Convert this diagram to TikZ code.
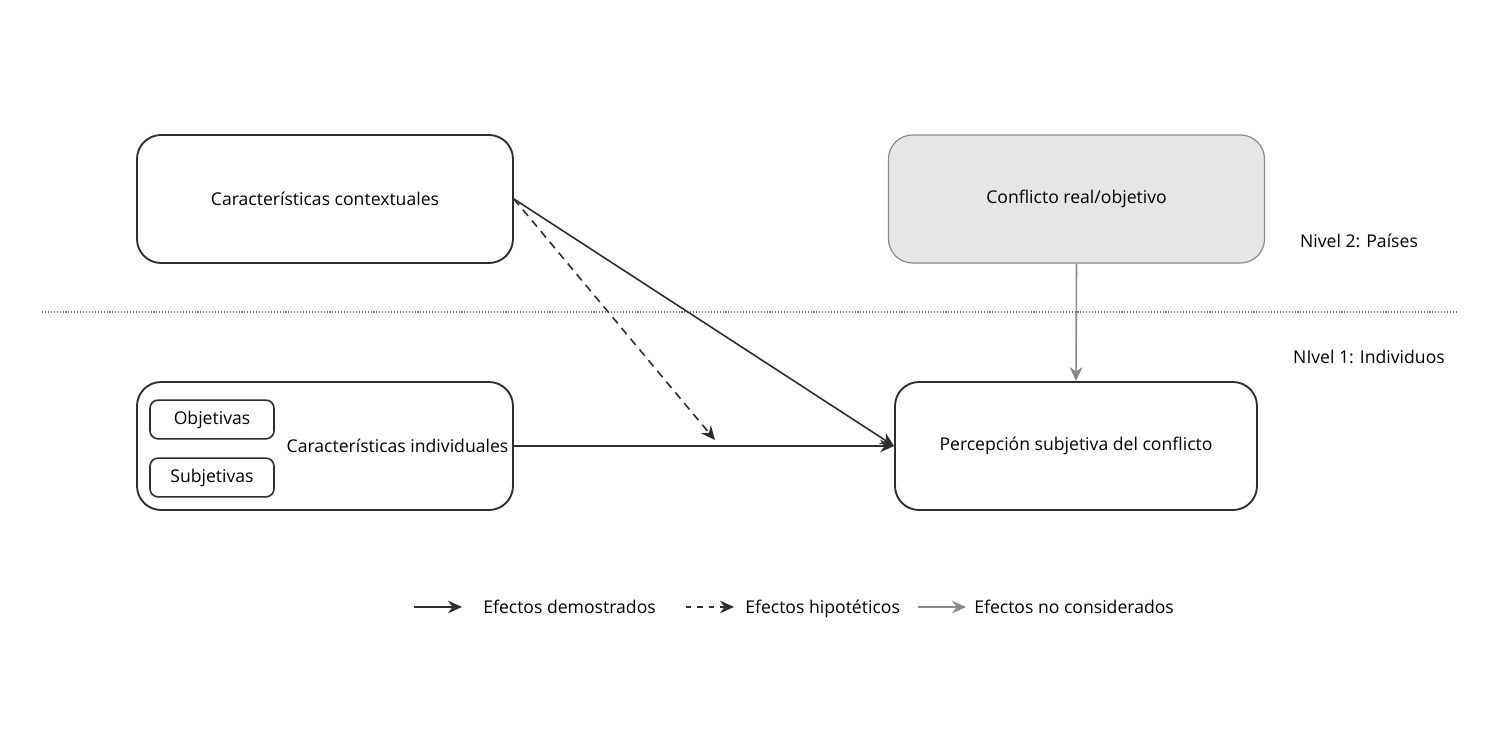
\documentclass[tikz,border=0pt]{standalone}
\usepackage{fontspec}
\setmainfont{Open Sans}
\usetikzlibrary{arrows.meta,positioning}
\definecolor{ink}{HTML}{2E2E2E}
\definecolor{grayink}{HTML}{8A8A8A}
\definecolor{grayfill}{HTML}{E6E6E6}
\tikzset{
  bigbox/.style={draw=ink, line width=1.4pt, rounded corners=18pt,
    minimum width=282pt, minimum height=96pt, align=center},
  smallbox/.style={draw=ink, line width=1.2pt, rounded corners=6pt,
    minimum width=93pt, minimum height=29pt},
  effect/.style={ink, line width=1.2pt, -{Stealth[length=10.5pt,width=9.5pt]}},
  hypo/.style={effect, dash pattern=on 6pt off 4.5pt},
  legendhypo/.style={effect, dash pattern=on 4pt off 4.5pt},
  notcons/.style={effect, grayink}
}
\begin{document}
\begin{tikzpicture}[x=0.75pt, y=-0.75pt, font=\fontsize{13.2}{16}\selectfont]
  \useasboundingbox (0,0) rectangle (1504,739);
  % niveles
  \draw[grayink!80!black, line width=0.8pt, dash pattern=on 0.8pt off 1.4pt] (42,312) -- (1457,312);
  \node (nivdos) at (1359,241) {Nivel 2: Países};
  \node (nivuno) at (1369,357) {NIvel 1: Individuos};
  % cajas
  \node[bigbox] (contexto) at (325,199) {Características contextuales};
  \node[bigbox, draw=grayink, line width=0.9pt, fill=grayfill] (conflicto) at (1076.5,199) {Conflicto real/objetivo};
  \node[bigbox] (individuo) at (325,446) {};
  \node[left, inner sep=4pt] (indtext) at (individuo.east) {Características individuales};
  \node[smallbox] (objetivas) at (212,419.5) {Objetivas};
  \node[smallbox] (subjetivas) at (212,477.5) {Subjetivas};
  \node[bigbox, minimum width=271.5pt] (percepcion) at (1076,446) {Percepción subjetiva del conflicto};
  % efectos
  \coordinate (hipofin) at (715,440);
  \draw[effect] (contexto.east) -- (percepcion.west);
  \draw[hypo] (contexto.east) -- (hipofin);
  \draw[effect] (individuo.east) -- (percepcion.west);
  \draw[notcons] (conflicto.south) -- (percepcion.north);
  % leyenda
  \foreach \s/\a/\t/\l in {effect/414/483/Efectos demostrados,
    legendhypo/686/745/Efectos hipotéticos,
    notcons/918/974/Efectos no considerados}
  {\coordinate (ley\a) at (\a,607);
   \node[right, inner sep=0pt, text height=1.6ex, text depth=.4ex] (leytxt\a) at (\t,609) {\l};
   \draw[\s] (ley\a) -- ++(48,0);}
\end{tikzpicture}
\end{document}
